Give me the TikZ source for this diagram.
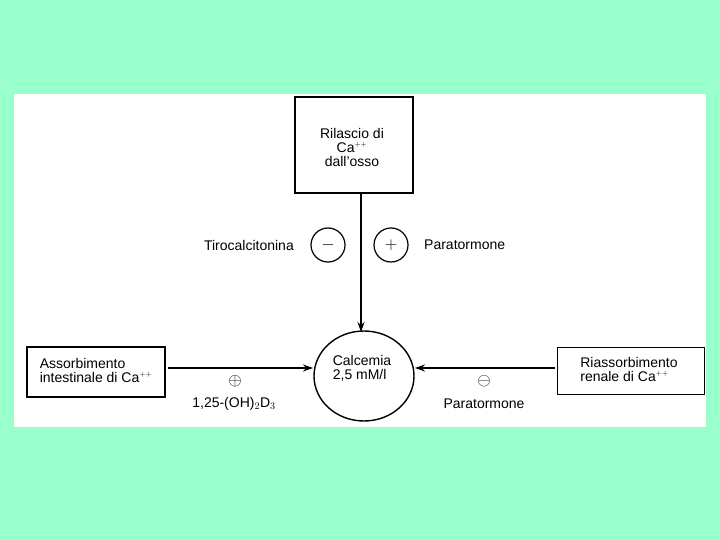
\documentclass[tikz,border=0pt]{standalone}
\usepackage{fontspec}
\setmainfont{Liberation Sans}
\usetikzlibrary{arrows.meta,shapes.geometric}
\definecolor{bgaqua}{HTML}{99FFCC}
\begin{document}
\begin{tikzpicture}[x=1pt,y=-1pt,
  txt/.style={font=\fontsize{14}{15}\selectfont, inner sep=0pt, align=center},
  boxn/.style={draw, line width=1.6pt, inner sep=0pt},
  sign/.style={draw, circle, line width=1.2pt, minimum size=34pt, inner sep=0pt, font=\fontsize{16}{16}\selectfont},
  conn/.style={line width=1.4pt, -{Stealth[length=10pt,width=7pt]}}]
\useasboundingbox (0,0) rectangle (720,540);
\fill[bgaqua] (0,0) rectangle (720,540);
\fill[white] (14,94) rectangle (706,427);
% boxes
\node[boxn, minimum width=118pt, minimum height=96pt] (top) at (354,145) {};
\node[txt] at (352,147) {Rilascio di\\[-1pt]Ca$^{\scriptscriptstyle ++}$\\[-1pt]dall'osso};
\node[boxn, minimum width=138pt, minimum height=50pt] (left) at (96,372) {};
\node[txt, align=left] at (96,370) {Assorbimento\\[-1pt]intestinale di Ca$^{\scriptscriptstyle ++}$};
\node[boxn, minimum width=147pt, minimum height=47pt] (right) at (631,371) {};
\node[txt, align=left] at (629,369) {Riassorbimento\\[-1pt]renale di Ca$^{\scriptscriptstyle ++}$};
% ellipse
\node[draw, ellipse, line width=1.4pt, minimum width=100pt, minimum height=90pt, inner sep=0pt] (cal) at (364,376) {};
\node[txt, align=left] at (362,368) {Calcemia\\[-1pt]2,5 mM/l};
% connectors
\coordinate (vt) at (361,193);
\coordinate (vb) at (361,332);
\draw[conn] (vt) -- (vb);
\coordinate (la) at (168,368);
\coordinate (lb) at (313,368);
\draw[conn] (la) -- (lb);
\coordinate (ra) at (555,368);
\coordinate (rb) at (415,368);
\draw[conn] (ra) -- (rb);
% sign circles
\node[sign] (minus) at (328,245) {$-$};
\node[sign] (plus) at (391,245) {$+$};
\node[txt, anchor=east] (tiro) at (294,245) {Tirocalcitonina};
\node[txt, anchor=west] (para1) at (424,245) {Paratormone};
% labels under horizontal arrows
\node[txt, font=\fontsize{18}{18}\selectfont] (oplus) at (235,381) {$\oplus$};
\node[txt] (dvit) at (234,404) {1,25-(OH)$_2$D$_3$};
\node[txt, font=\fontsize{18}{18}\selectfont] (ominus) at (484,381) {$\ominus$};
\node[txt] (para2) at (484,404) {Paratormone};
\end{tikzpicture}
\end{document}
